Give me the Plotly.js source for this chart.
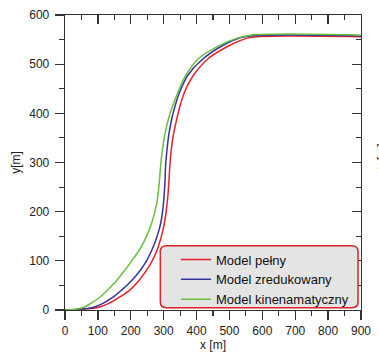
<!DOCTYPE html>
<html>
<head>
<meta charset="utf-8">
<script src="https://cdn.plot.ly/plotly-3.0.1.min.js"></script>
<style>html,body{margin:0;padding:0;background:#fff;}#chart{width:379px;height:354px;}</style>
</head>
<body>
<div id="chart"></div>
<script>
// Model pełny (red)
const redX = [0, 40, 100, 135, 168, 198, 225, 248, 265, 280, 291, 298, 303, 307, 310, 312.5, 316, 319, 323, 330, 339, 351, 364, 391, 437, 503, 554, 585, 900];
const redY = [0, 1, 5, 14, 27, 41, 60, 81, 100, 122, 145, 163, 180, 197, 214, 230, 262, 295, 325, 358, 386, 418, 444, 478, 512, 539, 553, 556, 556];
// Model zredukowany (blue)
const blueX = [0, 35, 85, 117, 148, 173, 203, 229, 248, 264, 275, 286, 292, 296, 299, 301, 304, 306, 310, 316, 325, 336, 349, 374, 418, 485, 535, 570, 900];
const blueY = [0, 1, 5, 14, 27, 41, 60, 81, 100, 122, 140, 163, 180, 197, 214, 230, 262, 295, 325, 358, 390, 418, 444, 478, 510, 540, 554, 558, 558];
// Model kinenamatyczny (green)
const greenX = [0, 25, 55, 80, 108, 130, 157, 182, 203, 226, 241, 256, 265, 272, 278, 282, 287, 291, 296, 304, 315, 329, 344, 368, 407, 473, 524, 564, 900];
const greenY = [0, 1, 5, 14, 27, 41, 60, 81, 100, 122, 140, 163, 180, 197, 214, 230, 262, 295, 325, 358, 390, 418, 444, 478, 512, 539, 553, 559, 559];

const names = ['Model pełny', 'Model zredukowany', 'Model kinenamatyczny'];
const colors = ['#e8202a', '#34359c', '#6abf3e'];

const xTicks = [0, 100, 200, 300, 400, 500, 600, 700, 800, 900];
const yTicks = [0, 100, 200, 300, 400, 500, 600];

const traces = [
  {x: redX, y: redY, name: names[0], color: colors[0]},
  {x: blueX, y: blueY, name: names[1], color: colors[1]},
  {x: greenX, y: greenY, name: names[2], color: colors[2]}
].map(t => ({
  type: 'scatter', mode: 'lines', x: t.x, y: t.y, name: t.name,
  line: {color: t.color, width: 1.5, shape: 'spline', smoothing: 1},
  xaxis: 'x', yaxis: 'y'
}));

// invisible trace to activate mirrored inside-tick axes
traces.push({type: 'scatter', x: [0], y: [0], xaxis: 'x2', yaxis: 'y2', mode: 'markers',
  marker: {opacity: 0}, showlegend: false, hoverinfo: 'skip'});

const axColor = '#333';
const font = {family: 'Arial, "Liberation Sans", sans-serif', size: 12, color: '#222'};

const r = 0.02;
const bx0 = 0.322, bx1 = 0.99, by0 = 0.008, by1 = 0.218;
const boxPath = `M ${bx0 + r},${by0} L ${bx1 - r},${by0} Q ${bx1},${by0} ${bx1},${by0 + r} L ${bx1},${by1 - r} Q ${bx1},${by1} ${bx1 - r},${by1} L ${bx0 + r},${by1} Q ${bx0},${by1} ${bx0},${by1 - r} L ${bx0},${by0 + r} Q ${bx0},${by0} ${bx0 + r},${by0} Z`;

const layout = {
  width: 379, height: 354,
  margin: {l: 65, r: 18, t: 15, b: 44},
  paper_bgcolor: '#fff', plot_bgcolor: '#fff',
  font: font,
  showlegend: true,
  legend: {
    x: 0.375, y: 0.222, xanchor: 'left', yanchor: 'top',
    bgcolor: 'rgba(0,0,0,0)', borderwidth: 0,
    font: {family: font.family, size: 13, color: '#111'},
    tracegroupgap: 0, itemwidth: 30
  },
  xaxis: {
    range: [0, 900], tickvals: xTicks, ticktext: xTicks.map(String),
    showgrid: false, zeroline: false, showline: true, linecolor: axColor, linewidth: 1.3,
    ticks: 'outside', ticklen: 9, tickwidth: 1.3, tickcolor: axColor,
    minor: {dtick: 50, ticks: 'outside', ticklen: 5, tickwidth: 1.1, tickcolor: axColor},
    tickfont: font,
    title: {text: 'x [m]', font: font, standoff: 0}
  },
  yaxis: {
    range: [0, 600], tickvals: yTicks, ticktext: yTicks.map(String),
    showgrid: false, zeroline: false, showline: true, linecolor: axColor, linewidth: 1.3,
    ticks: 'outside', ticklen: 9, tickwidth: 1.3, tickcolor: axColor,
    minor: {dtick: 50, ticks: 'outside', ticklen: 5, tickwidth: 1.1, tickcolor: axColor},
    tickfont: font, ticklabelstandoff: 3,
    title: {text: 'y[m]', font: font, standoff: 6}
  },
  xaxis2: {
    overlaying: 'x', side: 'top', range: [0, 900], dtick: 100,
    showticklabels: false, showgrid: false, zeroline: false, showline: true,
    linecolor: axColor, linewidth: 1.3,
    ticks: 'inside', ticklen: 9, tickwidth: 1.3, tickcolor: axColor,
    minor: {dtick: 50, ticks: 'inside', ticklen: 5, tickwidth: 1.1, tickcolor: axColor}
  },
  yaxis2: {
    overlaying: 'y', side: 'right', range: [0, 600], dtick: 100,
    showticklabels: false, showgrid: false, zeroline: false, showline: true,
    linecolor: axColor, linewidth: 1.3,
    ticks: 'inside', ticklen: 9, tickwidth: 1.3, tickcolor: axColor,
    minor: {dtick: 50, ticks: 'inside', ticklen: 5, tickwidth: 1.1, tickcolor: axColor}
  },
  shapes: [{
    type: 'path', xref: 'paper', yref: 'paper', path: boxPath,
    fillcolor: '#e4e4e4', line: {color: '#e0202a', width: 1.5}, layer: 'above'
  }],
  annotations: [{
    text: 'y [m]', xref: 'paper', yref: 'paper', x: 1.07, y: 0.52,
    textangle: -90, showarrow: false, font: font, xanchor: 'center', yanchor: 'middle'
  }]
};

Plotly.newPlot('chart', traces, layout, {staticPlot: true, displayModeBar: false});
</script>
</body>
</html>
